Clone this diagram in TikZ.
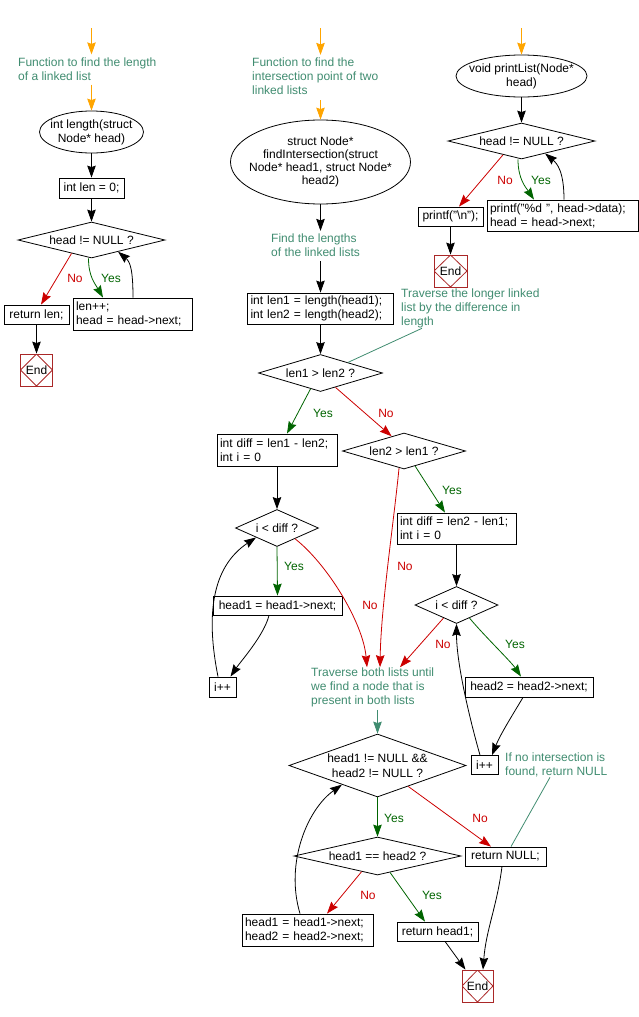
\documentclass[tikz,border=0pt]{standalone}
\usepackage{fontspec}
\setmainfont{Liberation Sans}
\usetikzlibrary{shapes.geometric,arrows.meta,calc}
\definecolor{cmtc}{RGB}{64,140,112}
\definecolor{orng}{RGB}{255,165,0}
\definecolor{yesc}{RGB}{0,100,0}
\definecolor{noc}{RGB}{204,0,0}
\definecolor{endc}{RGB}{170,40,40}
\tikzset{
  bx/.style={draw, rectangle, line width=0.8pt, inner xsep=3pt, inner ysep=1pt, align=center},
  bxl/.style={bx, align=left},
  ellx/.style={draw, ellipse, line width=0.8pt, inner sep=0pt},
  diax/.style={draw, diamond, line width=0.8pt, inner sep=0pt},
  txt/.style={inner sep=0pt, align=center},
  cmt/.style={inner sep=0pt, align=left, anchor=west, text=cmtc},
  arrtip/.style={-{Stealth[length=12pt,width=8.5pt,inset=1.5pt]}},
  ar/.style={draw=black, line width=0.8pt, arrtip},
  oar/.style={draw=orng, line width=0.8pt, arrtip},
  yar/.style={draw=yesc, line width=0.8pt, arrtip},
  nar/.style={draw=noc, line width=0.8pt, arrtip},
  tar/.style={draw=cmtc, line width=0.8pt, arrtip},
  tln/.style={draw=cmtc, line width=0.8pt},
  ylab/.style={text=yesc, inner sep=0pt},
  nlab/.style={text=noc, inner sep=0pt},
  endn/.style={draw=endc, line width=0.8pt, rectangle, inner sep=0pt,
    minimum width=32pt, minimum height=32pt,
    path picture={\draw[endc, line width=0.8pt] (path picture bounding box.north) -- (path picture bounding box.east) -- (path picture bounding box.south) -- (path picture bounding box.west) -- cycle;}},
}
\begin{document}
\begin{tikzpicture}[x=1pt,y=-1pt,font=\fontsize{12}{14}\selectfont]
\useasboundingbox (0,0) rectangle (639,1017);

% ---------------- left column ----------------
\coordinate (s1) at (91.5,28);
\node[cmt] (cm1) at (18,69) {Function to find the length\\of a linked list};
\node[ellx, minimum width=104pt, minimum height=42pt] (el1) at (91.5,132) {};
\node[txt] (el1t) at (el1) {int length(struct\\Node* head)};
\node[bx, minimum width=65pt, minimum height=20pt] (b1) at (91.5,188) {int len = 0;};
\node[diax, minimum width=147pt, minimum height=36pt] (d1) at (91.5,240) {};
\node[txt] (d1t) at (d1) {head != NULL ?};
\node[bx, minimum width=65pt, minimum height=19pt] (b2) at (36.5,314.5) {return len;};
\node[bxl, text width=113pt, minimum height=32pt] (b3) at (132.5,314) {len++;\\head = head->next;};
\node[endn] (e1) at (36.5,370) {End};

\draw[oar, shorten >=3pt] (s1) -- (s1 |- cm1.north);
\draw[oar, shorten <=4pt] (cm1.south -| el1) -- (el1.north);
\draw[ar] (el1.south) -- (b1.north);
\draw[ar] (b1.south) -- (d1.north);
\draw[nar] ($(d1.south)!0.27!(d1.west)$) -- ([xshift=4.5pt]b2.north);
\draw[yar] ([xshift=-3pt]d1.south) .. controls +(0,18) and +(-8,-14) .. ([xshift=-29.5pt]b3.north);
\draw[ar] ([xshift=0.5pt]b3.north) .. controls +(0,-28) and +(12,10) .. ($(d1.south)!0.36!(d1.east)$);
\draw[ar] (b2.south) -- (e1.north);
\node[nlab] (l1n) at (75,278) {No};
\node[ylab] (l1y) at (111,278) {Yes};

% ---------------- middle column ----------------
\coordinate (s2) at (320.5,28);
\node[cmt] (cm2) at (252,76.5) {Function to find the\\intersection point of two\\linked lists};
\node[ellx, minimum width=180pt, minimum height=84pt] (el2) at (320.5,162) {};
\node[txt, font=\fontsize{12}{13}\selectfont] (el2t) at (el2) {struct Node*\\findIntersection(struct\\Node* head1, struct Node*\\head2)};
\node[cmt] (cm3) at (271,245.5) {Find the lengths\\of the linked lists};
\node[bxl, text width=140pt, minimum height=31pt] (b4) at (320.5,308.5) {int len1 = length(head1);\\int len2 = length(head2);};
\node[diax, minimum width=124pt, minimum height=37pt] (d2) at (320.5,373) {};
\node[txt] (d2t) at (d2) {len1 > len2 ?};
\node[cmt] (cm4) at (401,308.5) {Traverse the longer linked\\list by the difference in\\length};
\node[bxl, text width=114pt, minimum height=32pt] (b5) at (277,450) {int diff = len1 - len2;\\int i = 0};
\node[diax, minimum width=123pt, minimum height=36pt] (d3) at (404,451) {};
\node[txt] (d3t) at (d3) {len2 > len1 ?};
\node[diax, minimum width=83pt, minimum height=37pt] (d4) at (277,528) {};
\node[txt] (d4t) at (d4) {i < diff ?};
\node[bx, minimum width=129pt, minimum height=19pt] (b6) at (277.5,605.5) {head1 = head1->next;};
\node[bx, minimum width=27pt, minimum height=20pt] (b7) at (222.5,687) {i++};
\node[bxl, text width=113pt, minimum height=31pt] (b8) at (456.5,528.5) {int diff = len2 - len1;\\int i = 0};
\node[diax, minimum width=83pt, minimum height=37pt] (d5) at (456.5,605) {};
\node[txt] (d5t) at (d5) {i < diff ?};
\node[bx, minimum width=128pt, minimum height=20pt] (b9) at (529,687) {head2 = head2->next;};
\node[bx, minimum width=27pt, minimum height=19pt] (b10) at (484.5,765) {i++};
\node[cmt] (cm5) at (311,687) {Traverse both lists until\\we find a node that is\\present in both lists};
\node[diax, minimum width=177pt, minimum height=63pt] (d6) at (377.5,765.5) {};
\node[txt, font=\fontsize{12}{15}\selectfont] (d6t) at (d6) {head1 != NULL \&\&\\head2 != NULL ?};
\node[cmt] (cm6) at (505,765) {If no intersection is\\found, return NULL};
\node[diax, minimum width=167pt, minimum height=38pt] (d7) at (377.5,856) {};
\node[txt] (d7t) at (d7) {head1 == head2 ?};
\node[bx, minimum width=81pt, minimum height=19pt] (b11) at (505.5,856.5) {return NULL;};
\node[bxl, text width=125pt, minimum height=32pt] (b12) at (307.5,930) {head1 = head1->next;\\head2 = head2->next;};
\node[bx, minimum width=81pt, minimum height=19pt] (b13) at (437.5,931.5) {return head1;};
\node[endn, minimum width=31pt] (e2) at (477.5,986) {End};

\draw[oar, shorten >=3pt] (s2) -- (s2 |- cm2.north);
\draw[oar, shorten <=5pt] (cm2.south -| el2) -- (el2.north);
\draw[ar, shorten >=3pt] (el2.south) -- (el2.south |- cm3.north);
\draw[ar, shorten <=4pt] (cm3.south -| b4) -- (b4.north);
\draw[ar] (b4.south) -- (d2.north);
\draw[tln] ([xshift=21pt]cm4.south west) -- ($(d2.north)!0.44!(d2.east)$);
\draw[yar] ($(d2.south)!0.16!(d2.west)$) -- ([xshift=10pt]b5.north);
\draw[nar] ($(d2.south)!0.24!(d2.east)$) -- ($(d3.north)!0.2!(d3.west)$);
\node[ylab] (l2y) at (323,413) {Yes};
\node[nlab] (l2n) at (386,413) {No};
\draw[ar] (b5.south) -- (d4.north);
\draw[yar] (d4.south) -- (b6.north);
\node[ylab] (l4y) at (294,566) {Yes};
\draw[ar] ([xshift=-8.5pt]b6.south) .. controls +(-5,20) and +(10,-15) .. ([xshift=8pt]b7.north);
\draw[ar] ([xshift=-4.5pt]b7.north) .. controls +(-12,-60) and +(-45,30) .. ($(d4.south)!0.5!(d4.west)$);
\draw[nar] ($(d4.south)!0.43!(d4.east)$) .. controls +(32,25) and +(-4,-45) .. ([xshift=56pt]cm5.north west);
\node[nlab] (l4n) at (370,605) {No};
\draw[nar] ($(d3.south)!0.08!(d3.west)$) .. controls +(-6,60) and +(1,-60) .. ([xshift=69pt]cm5.north west);
\node[nlab] (l3n) at (405,566) {No};
\draw[yar] ($(d3.south)!0.18!(d3.east)$) -- ([xshift=-11.5pt]b8.north);
\node[ylab] (l3y) at (452,490) {Yes};
\draw[ar] (b8.south) -- (d5.north);
\draw[nar] ($(d5.south)!0.31!(d5.west)$) -- ([xshift=89pt]cm5.north west);
\node[nlab] (l5n) at (443,644) {No};
\draw[yar] ($(d5.south)!0.31!(d5.east)$) .. controls +(15,18) and +(-10,-15) .. ([xshift=-8pt]b9.north);
\node[ylab] (l5y) at (515,644) {Yes};
\draw[ar] ([xshift=-6pt]b9.south) .. controls +(-12,20) and +(8,-20) .. ([xshift=7.5pt]b10.north);
\draw[ar] ([xshift=-4.5pt]b10.north) .. controls +(-10,-35) and +(0,40) .. (d5.south);
\draw[tar, shorten <=3pt] (cm5.south -| d6) -- (d6.north);
\draw[yar] (d6.south) -- (d7.north);
\node[ylab] (l6y) at (394,818) {Yes};
\draw[nar] ($(d6.south)!0.345!(d6.east)$) -- ([xshift=-14.5pt]b11.north);
\node[nlab] (l6n) at (480,818) {No};
\draw[tln] ([xshift=45pt]cm6.south west) -- ([xshift=5.5pt]b11.north);
\draw[nar] ($(d7.south)!0.19!(d7.west)$) -- ([xshift=19.5pt]b12.north);
\node[nlab] (l7n) at (368,895) {No};
\draw[yar] ($(d7.south)!0.15!(d7.east)$) -- ([xshift=-12.5pt]b13.north);
\node[ylab] (l7y) at (432,895) {Yes};
\draw[ar] ([xshift=-7.5pt]b12.north) .. controls +(-15,-50) and +(-35,25) .. ($(d6.south)!0.4!(d6.west)$);
\draw[ar] ([xshift=7.5pt]b13.south) -- ([xshift=-12pt]e2.north);
\draw[ar] ([xshift=-3.5pt]b11.south) .. controls +(-5,40) and +(3,-40) .. ([xshift=5.5pt]e2.north);

% ---------------- right column ----------------
\coordinate (s3) at (521.5,28);
\node[ellx, minimum width=131pt, minimum height=42pt] (el3) at (521.5,76) {};
\node[txt] (el3t) at (el3) {void printList(Node*\\head)};
\node[diax, minimum width=147pt, minimum height=36pt] (d8) at (521.5,141) {};
\node[txt] (d8t) at (d8) {head != NULL ?};
\node[bx, minimum width=65pt, minimum height=19pt] (b14) at (450.5,216.5) {printf("\textbackslash n");};
\node[bxl, text width=145pt, minimum height=31pt] (b15) at (562.5,215.5) {printf("\%d ", head->data);\\head = head->next;};
\node[endn, minimum width=33pt] (e3) at (450.5,271) {End};

\draw[oar] (s3) -- (el3.north);
\draw[ar] (el3.south) -- (d8.north);
\draw[nar] ($(d8.south)!0.25!(d8.west)$) -- ([xshift=8.5pt]b14.north);
\node[nlab] (l8n) at (505,180) {No};
\draw[yar] ([xshift=-3.5pt]d8.south) .. controls +(0,20) and +(-8,-12) .. ([xshift=-28.5pt]b15.north);
\node[ylab] (l8y) at (541,180) {Yes};
\draw[ar] ([xshift=1.5pt]b15.north) .. controls +(0,-28) and +(12,10) .. ($(d8.south)!0.32!(d8.east)$);
\draw[ar] (b14.south) -- (e3.north);
\end{tikzpicture}
\end{document}
